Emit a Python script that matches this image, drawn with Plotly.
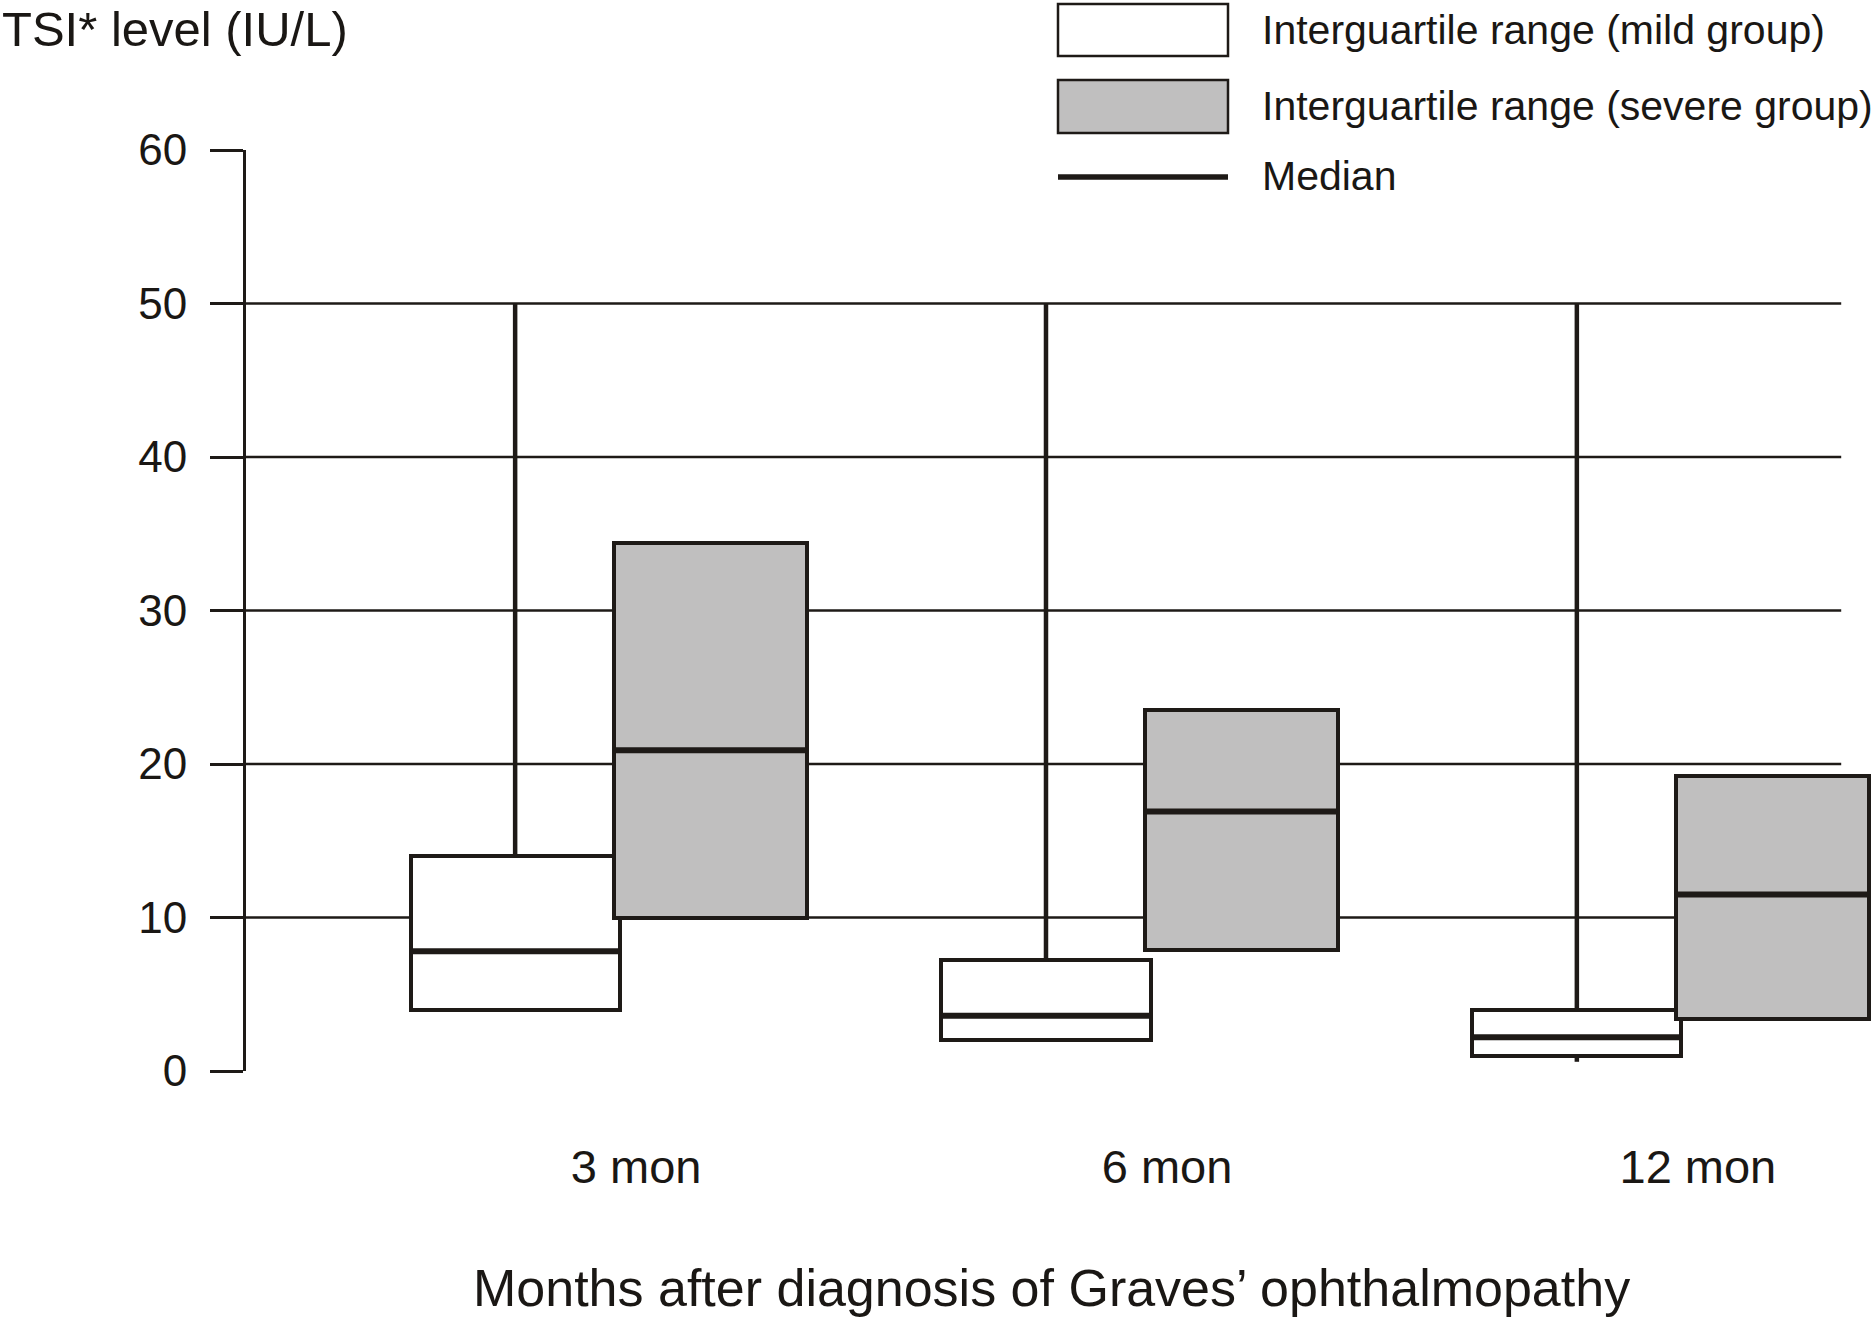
import plotly.graph_objects as go

# ---------------- data ----------------
categories = ["3 mon", "6 mon", "12 mon"]
y_tick_values = [0, 10, 20, 30, 40, 50, 60]
grid_values = [10, 20, 30, 40, 50]

mild_q1 = [4.0, 2.0, 1.0]
mild_median = [7.8, 3.6, 2.2]
mild_q3 = [14.0, 7.2, 4.0]
mild_whisker_low = [4.0, 2.0, 0.6]
mild_whisker_high = [50.0, 50.0, 50.0]

severe_q1 = [10.0, 7.9, 3.4]
severe_median = [20.9, 16.9, 11.5]
severe_q3 = [34.4, 23.5, 19.2]

legend_labels = ["Interguartile range (mild group)",
                 "Interguartile range (severe group)",
                 "Median"]
y_title = "TSI* level (IU/L)"
x_title = "Months after diagnosis of Graves\u2019 ophthalmopathy"

# ---------------- style / layout constants ----------------
DARK = "#1e1a17"
GRAY = "#c0bfbf"
TEXT = "#1a1714"
FONT = "Liberation Sans, Arial, sans-serif"

MILD_OFF, SEV_OFF = -0.228, 0.14
MILD_W, SEV_W = 0.394, 0.364
X_RANGE = [-0.735, 2.328]
GRID_END = 2.27

W, H = 1872, 1319
ML, MR, MT, MB = 246, 0, 150, 248
PW, PH = W - ML - MR, H - MT - MB


def px(xp):
    return (xp - ML) / PW


def py(yp):
    return (H - MB - yp) / PH


idx = list(range(len(categories)))
mild_x = [i + MILD_OFF for i in idx]
sev_x = [i + SEV_OFF for i in idx]

fig = go.Figure()

# whiskers (mild group)
wx, wy = [], []
for c, lo, q1, q3, hi in zip(mild_x, mild_whisker_low, mild_q1, mild_q3, mild_whisker_high):
    wx += [c, c, None, c, c, None]
    wy += [q3, hi, None, lo, q1, None]
fig.add_trace(go.Scatter(x=wx, y=wy, mode="lines", line=dict(color=DARK, width=4.5),
                         showlegend=False, hoverinfo="skip"))

# interquartile boxes
fig.add_trace(go.Bar(x=mild_x, y=[b - a for a, b in zip(mild_q1, mild_q3)], base=mild_q1,
                     width=MILD_W, marker=dict(color="white", line=dict(color=DARK, width=4)),
                     name=legend_labels[0], showlegend=False))
fig.add_trace(go.Bar(x=sev_x, y=[b - a for a, b in zip(severe_q1, severe_q3)], base=severe_q1,
                     width=SEV_W, marker=dict(color=GRAY, line=dict(color=DARK, width=4)),
                     name=legend_labels[1], showlegend=False))

# medians
mx, my = [], []
for c, m in zip(mild_x, mild_median):
    mx += [c - MILD_W / 2, c + MILD_W / 2, None]
    my += [m, m, None]
for c, m in zip(sev_x, severe_median):
    mx += [c - SEV_W / 2, c + SEV_W / 2, None]
    my += [m, m, None]
fig.add_trace(go.Scatter(x=mx, y=my, mode="lines", line=dict(color=DARK, width=6),
                         name=legend_labels[2], showlegend=False, hoverinfo="skip"))

shapes = []
for v in grid_values:
    shapes.append(dict(type="line", xref="x", yref="y", x0=X_RANGE[0], x1=GRID_END, y0=v, y1=v,
                       line=dict(color=DARK, width=2.5), layer="below"))

# legend swatches
shapes.append(dict(type="rect", xref="paper", yref="paper", x0=px(1058), x1=px(1228),
                   y0=py(56), y1=py(4), fillcolor="white", line=dict(color=DARK, width=2.5)))
shapes.append(dict(type="rect", xref="paper", yref="paper", x0=px(1058), x1=px(1228),
                   y0=py(133), y1=py(80), fillcolor=GRAY, line=dict(color=DARK, width=2.5)))
shapes.append(dict(type="line", xref="paper", yref="paper", x0=px(1058), x1=px(1228),
                   y0=py(177), y1=py(177), line=dict(color=DARK, width=5.5)))

annotations = []
for lab, yc in zip(legend_labels, [30, 106, 176]):
    annotations.append(dict(text=lab, xref="paper", yref="paper", x=px(1260), y=py(yc),
                            xanchor="left", yanchor="middle", showarrow=False,
                            font=dict(family=FONT, size=41, color=TEXT)))
annotations.append(dict(text=y_title, xref="paper", yref="paper", x=px(0), y=py(29),
                        xanchor="left", yanchor="middle", showarrow=False,
                        font=dict(family=FONT, size=49, color=TEXT)))
annotations.append(dict(text=x_title, xref="paper", yref="paper", x=px(1051), y=py(1288),
                        xanchor="center", yanchor="middle", showarrow=False,
                        font=dict(family=FONT, size=52, color=TEXT)))

fig.update_layout(
    width=W, height=H,
    margin=dict(l=ML, r=MR, t=MT, b=MB, pad=0),
    paper_bgcolor="white", plot_bgcolor="white",
    barmode="overlay", bargap=0,
    showlegend=False,
    shapes=shapes, annotations=annotations,
    xaxis=dict(range=X_RANGE, tickvals=idx, ticktext=categories, ticks="",
               showline=False, showgrid=False, zeroline=False, ticklabelstandoff=64,
               tickfont=dict(family=FONT, size=47, color=TEXT), fixedrange=True),
    yaxis=dict(range=[0, 60], tickvals=y_tick_values, ticks="outside", ticklen=33,
               tickwidth=2.5, tickcolor=DARK, showline=True, linewidth=3, linecolor=DARK,
               showgrid=False, zeroline=False, ticklabelstandoff=14,
               tickfont=dict(family=FONT, size=44, color=TEXT), fixedrange=True),
)

fig.write_html(
    "out.html",
    config={"displayModeBar": False},
    post_script="document.body.style.margin='0';document.body.style.padding='0';"
                "document.body.style.overflow='hidden';",
)
